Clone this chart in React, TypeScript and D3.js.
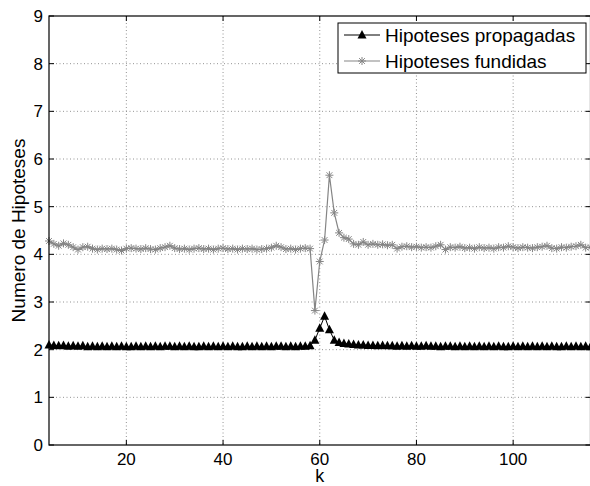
import * as d3 from 'd3';

const K_START = 4;

const PROPAGADAS = [
  2.10, 2.09, 2.08, 2.09, 2.07, 2.08, 2.07, 2.08, 2.06, 2.07,
  2.06, 2.07, 2.06, 2.07, 2.06, 2.07, 2.06, 2.06, 2.07, 2.06,
  2.07, 2.06, 2.07, 2.06, 2.07, 2.07, 2.06, 2.07, 2.06, 2.07,
  2.06, 2.06, 2.07, 2.06, 2.07, 2.06, 2.07, 2.06, 2.07, 2.06,
  2.06, 2.07, 2.06, 2.07, 2.06, 2.07, 2.06, 2.07, 2.07, 2.06,
  2.07, 2.06, 2.07, 2.07, 2.08, 2.20, 2.45, 2.70, 2.42, 2.20,
  2.15, 2.13, 2.12, 2.11, 2.10, 2.10, 2.09, 2.09, 2.08, 2.09,
  2.08, 2.08, 2.07, 2.08, 2.07, 2.08, 2.07, 2.07, 2.08, 2.07,
  2.07, 2.06, 2.07, 2.07, 2.06, 2.07, 2.06, 2.07, 2.06, 2.07,
  2.06, 2.07, 2.06, 2.07, 2.06, 2.06, 2.07, 2.06, 2.07, 2.06,
  2.07, 2.06, 2.07, 2.06, 2.07, 2.06, 2.06, 2.07, 2.06, 2.07,
  2.06, 2.07, 2.06,
];

const FUNDIDAS = [
  4.28, 4.22, 4.18, 4.23, 4.20, 4.15, 4.10, 4.15, 4.16, 4.12,
  4.10, 4.12, 4.11, 4.12, 4.10, 4.08, 4.12, 4.13, 4.12, 4.11,
  4.13, 4.11, 4.10, 4.13, 4.15, 4.18, 4.13, 4.11, 4.12, 4.10,
  4.12, 4.13, 4.11, 4.12, 4.10, 4.12, 4.13, 4.11, 4.12, 4.10,
  4.12, 4.11, 4.12, 4.10, 4.11, 4.12, 4.14, 4.18, 4.15, 4.11,
  4.12, 4.10, 4.12, 4.13, 4.12, 2.82, 3.85, 4.30, 5.66, 4.87,
  4.45, 4.35, 4.32, 4.22, 4.20, 4.26, 4.20, 4.22, 4.20, 4.21,
  4.19, 4.20, 4.12, 4.16, 4.17, 4.15, 4.16, 4.14, 4.15, 4.14,
  4.17, 4.20, 4.10, 4.15, 4.14, 4.16, 4.13, 4.14, 4.12, 4.15,
  4.13, 4.14, 4.12, 4.15, 4.14, 4.17, 4.15, 4.13, 4.15, 4.14,
  4.13, 4.15, 4.16, 4.18, 4.13, 4.12, 4.15, 4.14, 4.16, 4.17,
  4.20, 4.14, 4.15,
];

const X_TICKS = [20, 40, 60, 80, 100];
const Y_TICKS = [0, 1, 2, 3, 4, 5, 6, 7, 8, 9];
const LEGEND = ['Hipoteses propagadas', 'Hipoteses fundidas'];

const W = 590;
const H = 486;
const M = { left: 49, right: 590.5, top: 16, bottom: 445 };
const FONT = '"Liberation Sans", Arial, Helvetica, sans-serif';
const GRAY = '#858585';

function triangle(cx: number, cy: number) {
  return `M${cx},${cy - 5}L${cx + 4.5},${cy + 3.5}L${cx - 4.5},${cy + 3.5}Z`;
}

function asterisk(cx: number, cy: number) {
  const r = 4;
  const d = r * 0.72;
  return `M${cx - r},${cy}L${cx + r},${cy}M${cx},${cy - r}L${cx},${cy + r}` +
    `M${cx - d},${cy - d}L${cx + d},${cy + d}M${cx - d},${cy + d}L${cx + d},${cy - d}`;
}

export default function App() {
  const x = d3.scaleLinear().domain([4, 116]).range([M.left, M.right]);
  const y = d3.scaleLinear().domain([0, 9]).range([M.bottom, M.top]);

  const prop = PROPAGADAS.map((v, i) => [K_START + i, v] as [number, number]);
  const fund = FUNDIDAS.map((v, i) => [K_START + i, v] as [number, number]);
  const line = d3.line<[number, number]>().x((d) => x(d[0])).y((d) => y(d[1]));

  const lx = 338;
  const ly = 23;
  const lw = 248;
  const lh = 50;
  const rows = [35, 61];

  return (
    <div style={{ position: 'fixed', left: 0, top: 0, width: W, height: H, overflow: 'hidden', background: '#fff' }}>
      <svg width={W} height={H} style={{ display: 'block' }} fontFamily={FONT}>
        <rect x={0} y={0} width={W} height={H} fill="#fff" />

        {/* grid */}
        {X_TICKS.map((t) => (
          <line key={'gx' + t} x1={x(t)} x2={x(t)} y1={M.top} y2={M.bottom}
            stroke="#777" strokeWidth={0.8} strokeDasharray="1,2.5" />
        ))}
        {Y_TICKS.slice(1, -1).map((t) => (
          <line key={'gy' + t} x1={M.left} x2={M.right} y1={y(t)} y2={y(t)}
            stroke="#777" strokeWidth={0.8} strokeDasharray="1,2.5" />
        ))}

        {/* series */}
        <path d={line(fund) || ''} fill="none" stroke={GRAY} strokeWidth={1.2} />
        {fund.map((d, i) => (
          <path key={'f' + i} d={asterisk(x(d[0]), y(d[1]))} stroke={GRAY} strokeWidth={1} fill="none" />
        ))}
        <path d={line(prop) || ''} fill="none" stroke="#000" strokeWidth={1} />
        {prop.map((d, i) => (
          <path key={'p' + i} d={triangle(x(d[0]), y(d[1]))} fill="#000" />
        ))}

        {/* axes box */}
        <rect x={M.left} y={M.top} width={M.right - M.left} height={M.bottom - M.top}
          fill="none" stroke="#000" strokeWidth={1.2} />
        {X_TICKS.map((t) => (
          <g key={'tx' + t}>
            <line x1={x(t)} x2={x(t)} y1={M.bottom} y2={M.bottom - 5} stroke="#000" />
            <line x1={x(t)} x2={x(t)} y1={M.top} y2={M.top + 5} stroke="#000" />
            <text x={x(t)} y={465} textAnchor="middle" fontSize={17}>{t}</text>
          </g>
        ))}
        {Y_TICKS.map((t) => (
          <g key={'ty' + t}>
            <line x1={M.left} x2={M.left + 5} y1={y(t)} y2={y(t)} stroke="#000" />
            <line x1={M.right} x2={M.right - 5} y1={y(t)} y2={y(t)} stroke="#000" />
            <text x={43} y={y(t) + 6} textAnchor="end" fontSize={17}>{t}</text>
          </g>
        ))}

        <text x={(M.left + M.right) / 2} y={482} textAnchor="middle" fontSize={18}>k</text>
        <text transform={`translate(25,${(M.top + M.bottom) / 2}) rotate(-90)`} textAnchor="middle" fontSize={19}>
          Numero de Hipoteses
        </text>

        {/* legend */}
        <rect x={lx} y={ly} width={lw} height={lh} fill="#fff" stroke="#000" strokeWidth={1} />
        <line x1={344} x2={380} y1={rows[0]} y2={rows[0]} stroke="#000" strokeWidth={1} />
        <path d={triangle(362, rows[0])} fill="#000" />
        <text x={385} y={rows[0] + 7} fontSize={19}>{LEGEND[0]}</text>
        <line x1={344} x2={380} y1={rows[1]} y2={rows[1]} stroke={GRAY} strokeWidth={1} />
        <path d={asterisk(362, rows[1])} stroke={GRAY} fill="none" />
        <text x={385} y={rows[1] + 7} fontSize={19}>{LEGEND[1]}</text>
      </svg>
    </div>
  );
}
